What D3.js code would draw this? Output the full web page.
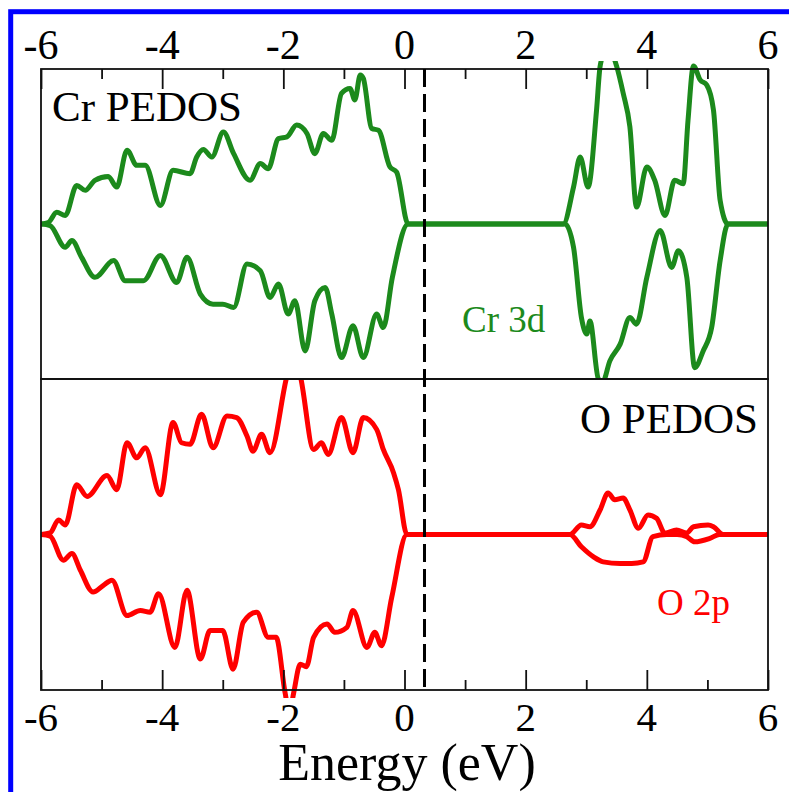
<!DOCTYPE html>
<html>
<head>
<meta charset="utf-8">
<script src="https://cdn.jsdelivr.net/npm/d3@7"></script>
<style>
html,body{margin:0;padding:0;background:#fff;}
svg{display:block;}
</style>
</head>
<body>
<svg id="chart" width="789" height="792"></svg>
<script>
// ---- data ----
const xTicks = [-6,-5,-4,-3,-2,-1,0,1,2,3,4,5,6];
const xTickLabels = ["-6","-4","-2","0","2","4","6"];
const fermiLevel = 0.33;

const crUp = [[-6,0],[-5.88,0.1],[-5.74,0.76],[-5.6,0.55],[-5.41,2.49],[-5.27,2.17],[-5.11,2.82],[-4.89,3.07],[-4.75,2.38],[-4.58,4.76],[-4.42,3.79],[-4.28,3.79],[-4.03,1.2],[-3.82,3.46],[-3.54,3.25],[-3.43,4.32],[-3.32,4.8],[-3.18,4.32],[-2.99,5.94],[-2.82,4.54],[-2.55,2.82],[-2.38,3.9],[-2.25,3.57],[-2.08,5.51],[-1.94,5.62],[-1.78,6.38],[-1.61,5.84],[-1.48,4.54],[-1.34,5.84],[-1.2,5.4],[-1.04,8.43],[-0.9,8.75],[-0.82,8.0],[-0.73,9.61],[-0.68,9.4],[-0.54,6.16],[-0.43,6.05],[-0.24,3.68],[-0.13,3.35],[0.06,0],
  [2.62,0],[2.79,2.38],[2.9,4.32],[3.03,2.38],[3.17,7.35],[3.23,10.2],[3.35,11.5],[3.5,10.2],[3.61,8.43],[3.72,6.27],[3.83,1.09],[4.0,3.68],[4.13,2.82],[4.3,0.55],[4.46,2.82],[4.6,2.6],[4.68,6.7],[4.77,10.2],[4.88,9.3],[4.99,8.96],[5.1,7.35],[5.21,1.52],[5.34,0],[6,0]];

const crDown = [[-6,0],[-5.85,-0.1],[-5.6,-1.5],[-5.49,-1.07],[-5.33,-2.15],[-5.11,-3.44],[-4.8,-2.36],[-4.61,-3.66],[-4.31,-3.66],[-4.03,-2.04],[-3.76,-3.77],[-3.59,-2.15],[-3.37,-4.52],[-3.16,-5.17],[-3.0,-5.17],[-2.82,-5.38],[-2.6,-2.58],[-2.38,-3.01],[-2.22,-4.74],[-2.08,-3.87],[-1.92,-5.81],[-1.81,-4.95],[-1.64,-8.19],[-1.48,-4.95],[-1.31,-4.09],[-1.2,-5.81],[-1.04,-8.62],[-0.85,-6.57],[-0.68,-8.62],[-0.46,-5.81],[-0.35,-6.68],[-0.2,-3.44],[0.06,0],
  [2.65,0],[2.79,-1.5],[2.92,-6.03],[3.01,-7.1],[3.06,-6.25],[3.2,-10.0],[3.27,-10.2],[3.39,-8.83],[3.56,-7.75],[3.72,-6.03],[3.83,-6.46],[4.0,-3.44],[4.22,-0.42],[4.41,-2.8],[4.52,-1.72],[4.66,-3.44],[4.79,-9.27],[4.93,-8.19],[5.07,-6.68],[5.21,-2.36],[5.34,0],[6,0]];

const oUp = [[-6,0],[-5.85,0.1],[-5.71,0.94],[-5.6,0.61],[-5.41,3.2],[-5.24,2.45],[-4.91,3.79],[-4.75,2.88],[-4.58,5.9],[-4.42,4.93],[-4.28,5.58],[-4.03,2.56],[-3.82,7.2],[-3.68,5.9],[-3.54,5.8],[-3.35,7.73],[-3.16,5.58],[-2.93,7.62],[-2.77,7.52],[-2.6,6.33],[-2.5,5.36],[-2.36,6.44],[-2.22,5.26],[-1.94,10.2],[-1.84,11.5],[-1.72,10.2],[-1.5,5.47],[-1.37,5.9],[-1.26,5.15],[-1.04,7.52],[-0.85,5.26],[-0.68,7.52],[-0.46,6.76],[-0.35,5.47],[-0.18,3.96],[-0.1,2.88],[0.04,0],
  [2.73,0],[2.92,0.61],[3.06,0.5],[3.23,1.59],[3.36,2.67],[3.47,2.23],[3.61,2.34],[3.72,1.59],[3.86,0.4],[4.02,1.26],[4.16,1.05],[4.3,0.08],[4.49,0.29],[4.66,0.1],[4.77,0.5],[5.01,0.61],[5.1,0.5],[5.26,0],[6,0]];

const oDown = [[-6,0],[-5.85,-0.1],[-5.63,-1.65],[-5.49,-1.22],[-5.35,-2.3],[-5.14,-3.7],[-4.97,-3.27],[-4.83,-2.94],[-4.58,-5.21],[-4.36,-4.89],[-4.2,-5.0],[-4.06,-3.81],[-3.79,-7.26],[-3.59,-3.59],[-3.37,-8.01],[-3.21,-6.18],[-3.0,-6.18],[-2.83,-8.66],[-2.66,-5.64],[-2.44,-5.0],[-2.25,-6.61],[-2.12,-6.61],[-1.97,-10.2],[-1.9,-11.5],[-1.83,-10.2],[-1.72,-8.34],[-1.62,-8.5],[-1.5,-6.61],[-1.28,-5.75],[-1.15,-6.29],[-0.95,-5.97],[-0.85,-4.89],[-0.62,-7.26],[-0.49,-6.29],[-0.38,-7.15],[-0.21,-4.03],[0.04,0],
  [2.73,0],[2.92,-0.79],[3.12,-1.44],[3.28,-1.76],[3.56,-1.86],[3.75,-1.86],[3.94,-1.76],[4.1,-0.14],[4.33,0],[4.5,0],[4.66,-0.14],[4.79,-0.47],[5.04,-0.25],[5.2,0],[6,0]];

// ---- layout ----
const svg = d3.select("#chart");
const W = 789, H = 792;
const pLeft = 41, pRight = 768, pTop = 69, pMid = 379, pBottom = 690;
const green = "#1c8a1c", red = "#ff0000";

svg.append("rect").attr("x",0).attr("y",0).attr("width",W).attr("height",H).attr("fill","#fff");
// blue frame (cropped at right/bottom)
svg.append("rect").attr("x",10.7).attr("y",11.7).attr("width",W+20).attr("height",H+20)
  .attr("fill","none").attr("stroke","#0000ff").attr("stroke-width",5);

const x = d3.scaleLinear().domain([-6,6]).range([pLeft,pRight]);
const yTop = d3.scaleLinear().domain([-10,10]).range([pMid,pTop]);
const yBot = d3.scaleLinear().domain([-10,10]).range([pBottom,pMid]);

const defs = svg.append("defs");
defs.append("clipPath").attr("id","clipTop").append("rect")
  .attr("x",pLeft).attr("y",pTop-8).attr("width",pRight-pLeft).attr("height",pMid-pTop+8);
defs.append("clipPath").attr("id","clipBot").append("rect")
  .attr("x",pLeft).attr("y",pMid).attr("width",pRight-pLeft).attr("height",pBottom-pMid+8);

function drawCurve(data, yScale, color, clip){
  const line = d3.line().x(d=>x(d[0])).y(d=>yScale(d[1])).curve(d3.curveMonotoneX);
  svg.append("path").datum(data).attr("d",line).attr("fill","none")
    .attr("stroke",color).attr("stroke-width",5).attr("stroke-linejoin","round")
    .attr("clip-path","url(#"+clip+")");
}
drawCurve(crUp, yTop, green, "clipTop");
drawCurve(crDown, yTop, green, "clipTop");
drawCurve(oUp, yBot, red, "clipBot");
drawCurve(oDown, yBot, red, "clipBot");

// frames
svg.append("rect").attr("x",pLeft).attr("y",pTop).attr("width",pRight-pLeft).attr("height",pMid-pTop)
  .attr("fill","none").attr("stroke","#111").attr("stroke-width",1.8);
svg.append("rect").attr("x",pLeft).attr("y",pMid).attr("width",pRight-pLeft).attr("height",pBottom-pMid)
  .attr("fill","none").attr("stroke","#111").attr("stroke-width",1.8);

// axes
const topAxis = d3.axisTop(x).tickValues(xTicks).tickSizeOuter(0).tickFormat("");
const gTop = svg.append("g").attr("transform",`translate(0,${pTop})`).call(topAxis);
const botAxis = d3.axisBottom(x).tickValues(xTicks).tickSizeOuter(0).tickFormat("");
const gBot = svg.append("g").attr("transform",`translate(0,${pBottom})`).call(botAxis);
[gTop,gBot].forEach((g,i)=>{
  g.select(".domain").remove();
  g.selectAll(".tick line")
    .attr("y2", d => (i===0?1:-1)*(d%2===0?20:10))
    .attr("stroke","#111").attr("stroke-width",1.8);
});

function txt(xp, yp, s, size, anchor, color){
  return svg.append("text").attr("x",xp).attr("y",yp)
    .style("font-family",'"Liberation Serif"').style("font-size",size+"px")
    .attr("text-anchor",anchor||"start").attr("fill",color||"#000").text(s);
}
// tick labels
xTickLabels.forEach(s=>{
  txt(x(+s), 59, s, 42, "middle");
  txt(x(+s), 731, s, 41, "middle");
});

// Fermi level dashed line
svg.append("line").attr("x1",x(fermiLevel)).attr("x2",x(fermiLevel))
  .attr("y1",pTop).attr("y2",pBottom).attr("stroke","#000").attr("stroke-width",3)
  .attr("stroke-dasharray","18,7");

// labels
txt(52, 121, "Cr PEDOS", 43);
txt(758, 433, "O PEDOS", 43, "end");
txt(462, 332, "Cr 3d", 37, "start", green);
txt(657, 615, "O 2p", 37, "start", red);
txt(407, 780, "Energy (eV)", 52, "middle");
</script>
</body>
</html>
